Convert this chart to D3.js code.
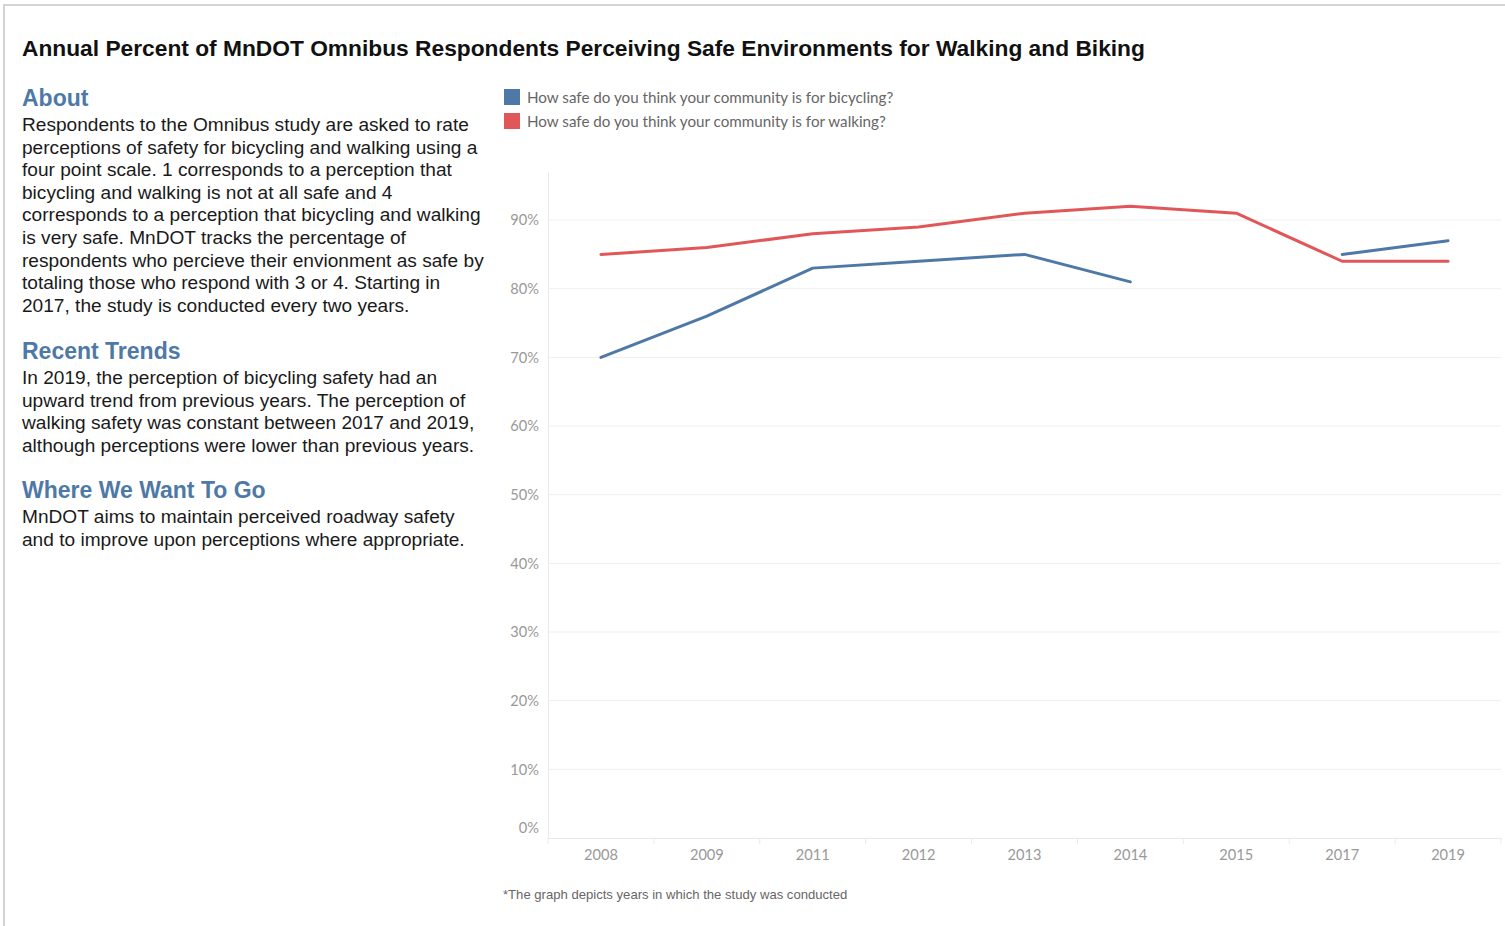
<!DOCTYPE html>
<html>
<head>
<meta charset="utf-8">
<script src="https://cdn.jsdelivr.net/npm/d3@7"></script>
<style>
  html, body { margin: 0; padding: 0; background: #fff; }
  svg { display: block; }
</style>
</head>
<body>
<svg id="chart" width="1505" height="926"></svg>
<script>
// ---- Data ----
const years = ["2008", "2009", "2011", "2012", "2013", "2014", "2015", "2017", "2019"];
const bicycling = [70, 76, 83, 84, 85, 81, null, 85, 87];
const walking = [85, 86, 88, 89, 91, 92, 91, 84, 84];
const yTicks = [0, 10, 20, 30, 40, 50, 60, 70, 80, 90];
const seriesNames = ["How safe do you think your community is for bicycling?", "How safe do you think your community is for walking?"];
const seriesColors = ["#4e79a7", "#e15759"];

const title = "Annual Percent of MnDOT Omnibus Respondents Perceiving Safe Environments for Walking and Biking";
const aboutLines = [
  "Respondents to the Omnibus study are asked to rate",
  "perceptions of safety for bicycling and walking using a",
  "four point scale. 1 corresponds to a perception that",
  "bicycling and walking is not at all safe and 4",
  "corresponds to a perception that bicycling and walking",
  "is very safe. MnDOT tracks the percentage of",
  "respondents who percieve their envionment as safe by",
  "totaling those who respond with 3 or 4. Starting in",
  "2017, the study is conducted every two years."
];
const trendLines = [
  "In 2019, the perception of bicycling safety had an",
  "upward trend from previous years. The perception of",
  "walking safety was constant between 2017 and 2019,",
  "although perceptions were lower than previous years."
];
const goLines = [
  "MnDOT aims to maintain perceived roadway safety",
  "and to improve upon perceptions where appropriate."
];
const footnote = "*The graph depicts years in which the study was conducted";

// ---- Drawing ----
const svg = d3.select("#chart");
const sans = "'Liberation Sans', Arial, sans-serif";
const tabFont = "Lato, 'Open Sans', sans-serif";

// outer frame
svg.append("line").attr("x1", 4).attr("x2", 4).attr("y1", 4).attr("y2", 926)
  .attr("stroke", "#d4d4d4").attr("stroke-width", 2);
svg.append("line").attr("x1", 3).attr("x2", 1505).attr("y1", 5).attr("y2", 5)
  .attr("stroke", "#d4d4d4").attr("stroke-width", 2);

svg.append("text").attr("x", 22).attr("y", 56)
  .attr("font-family", sans).attr("font-weight", "bold").attr("font-size", 22.75)
  .attr("fill", "#111").text(title);

function block(heading, hy, lines, ly) {
  svg.append("text").attr("x", 22).attr("y", hy)
    .attr("font-family", sans).attr("font-weight", "bold").attr("font-size", 23)
    .attr("fill", "#4e79a7").text(heading);
  svg.selectAll(null).data(lines).enter().append("text")
    .attr("x", 22).attr("y", (d, i) => ly + i * 22.6)
    .attr("font-family", sans).attr("font-size", 19.1)
    .attr("fill", "#1a1a1a").text(d => d);
}
block("About", 106, aboutLines, 131);
block("Recent Trends", 359, trendLines, 384);
block("Where We Want To Go", 498, goLines, 523);

// legend
const leg = svg.append("g");
seriesNames.forEach((name, i) => {
  leg.append("rect").attr("x", 504).attr("y", 89 + i * 24).attr("width", 16).attr("height", 16)
    .attr("fill", seriesColors[i]);
  leg.append("text").attr("x", 527).attr("y", 103 + i * 24)
    .attr("font-family", tabFont).attr("font-size", 15.2).attr("fill", "#666").text(name);
});

// scales
const plotLeft = 548, plotRight = 1501, plotTop = 172, plotBottom = 838;
const x = d3.scaleBand().domain(years).range([plotLeft, plotRight]);
const y = d3.scaleLinear().domain([0, 97]).range([plotBottom, plotTop]);

// gridlines
svg.append("g").selectAll("line").data(yTicks.filter(d => d > 0)).enter().append("line")
  .attr("x1", plotLeft).attr("x2", plotRight)
  .attr("y1", d => y(d)).attr("y2", d => y(d))
  .attr("stroke", "#efefef").attr("stroke-width", 1);

// y axis
const yAxis = svg.append("g").attr("transform", `translate(${plotLeft},0)`)
  .call(d3.axisLeft(y).tickValues(yTicks).tickFormat(d => d + "%").tickSize(0).tickPadding(9));
yAxis.select(".domain").attr("stroke", "#e8e8e8");
yAxis.selectAll("text").attr("font-family", tabFont).attr("font-size", 14.6).attr("fill", "#999")
  .attr("dy", d => d === 0 ? "-0.4em" : "0.32em");

// x axis
const xAxis = svg.append("g").attr("transform", `translate(0,${plotBottom})`)
  .call(d3.axisBottom(x).tickSize(0).tickPadding(12));
xAxis.select(".domain").attr("stroke", "#e8e8e8");
xAxis.selectAll("text").attr("font-family", tabFont).attr("font-size", 14.6).attr("fill", "#999");
// band separators
const bounds = years.map(d => x(d)).concat([plotRight]);
svg.append("g").selectAll("line").data(bounds).enter().append("line")
  .attr("x1", d => d).attr("x2", d => d).attr("y1", plotBottom).attr("y2", plotBottom + 6)
  .attr("stroke", "#eaeaea");

// lines (bicycling has no 2015 value, leaving a gap)
const line = d3.line()
  .defined(d => d.v !== null)
  .x(d => x(d.year) + x.bandwidth() / 2)
  .y(d => y(d.v));
[bicycling, walking].forEach((vals, i) => {
  const data = years.map((yr, j) => ({ year: yr, v: vals[j] }));
  svg.append("path").datum(data).attr("d", line)
    .attr("fill", "none").attr("stroke", seriesColors[i]).attr("stroke-width", 3)
    .attr("stroke-linejoin", "round").attr("stroke-linecap", "round");
});

svg.append("text").attr("x", 503).attr("y", 899)
  .attr("font-family", sans).attr("font-size", 13.1).attr("fill", "#666").text(footnote);
</script>
</body>
</html>
